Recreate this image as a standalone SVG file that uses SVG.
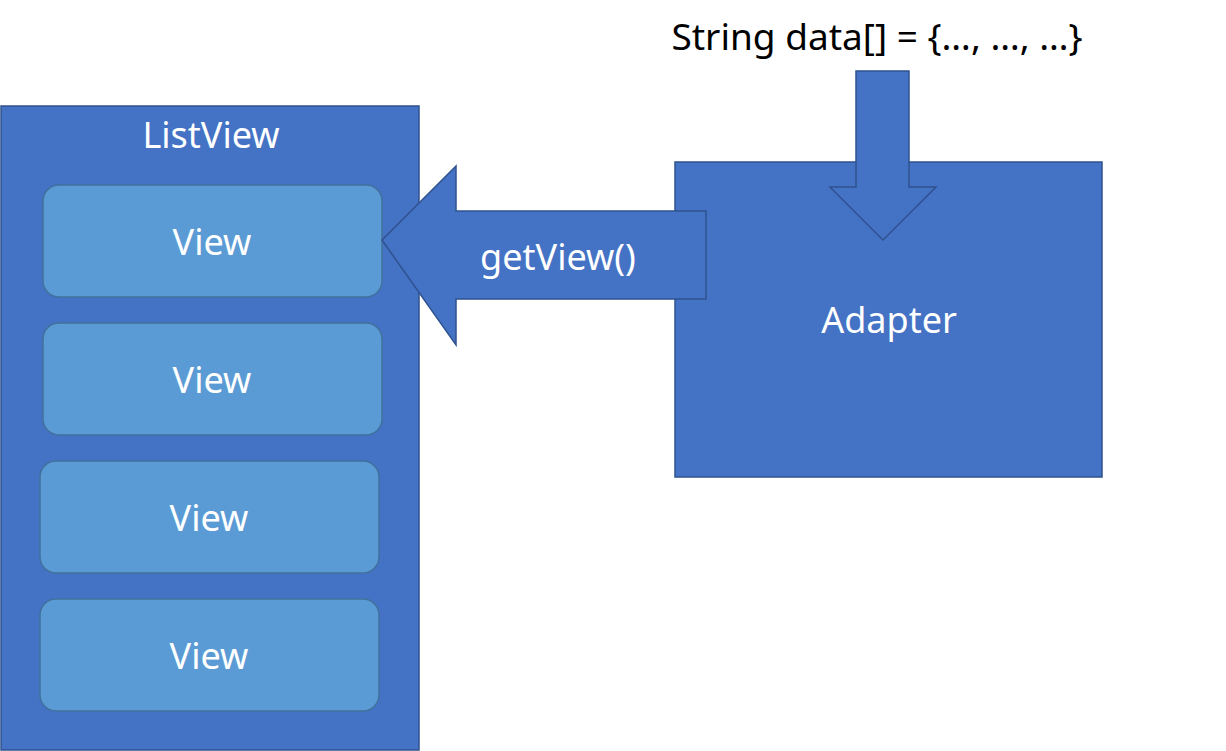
<svg xmlns="http://www.w3.org/2000/svg" width="1226" height="751" viewBox="0 0 1226 751">
<style>
.box{fill:#4472C4;stroke:#2F528F;stroke-width:1.5}
.item{fill:#5B9BD5;stroke:#41719C;stroke-width:1.5}
.wt{fill:#FFFFFF;font-family:"Noto Sans","Open Sans",sans-serif;font-size:36px;text-anchor:middle}
.bt{fill:#000000;font-family:"Noto Sans","Open Sans",sans-serif;font-size:37px;text-anchor:middle}
</style>
<rect width="1226" height="751" fill="#FFFFFF"/>
<g id="listview">
<rect class="box" x="1" y="106" width="418" height="644"/>
<text class="wt" x="211" y="148">ListView</text>
</g>
<g id="view1">
<rect class="item" x="43" y="185" width="339" height="112" rx="16"/>
<text class="wt" x="212" y="255">View</text>
</g>
<g id="view2">
<rect class="item" x="43" y="323" width="339" height="112" rx="16"/>
<text class="wt" x="212" y="393">View</text>
</g>
<g id="view3">
<rect class="item" x="40" y="461" width="339" height="112" rx="16"/>
<text class="wt" x="209" y="531">View</text>
</g>
<g id="view4">
<rect class="item" x="40" y="599" width="339" height="112" rx="16"/>
<text class="wt" x="209" y="669">View</text>
</g>
<g id="adapter">
<rect class="box" x="675" y="162" width="427" height="315"/>
<text class="wt" x="889" y="333">Adapter</text>
</g>
<g id="data">
<text class="bt" x="877" y="50">String data[] = {…, …, …}</text>
</g>
<g id="connectors">
<polygon class="box" points="856,71 909,71 909,187 936,187 883,240 830,187 856,187"/>
<polygon class="box" points="382,240 456,166 456,211 706,211 706,299 456,299 456,345"/>
<text class="wt" x="558" y="270">getView()</text>
</g>
</svg>
